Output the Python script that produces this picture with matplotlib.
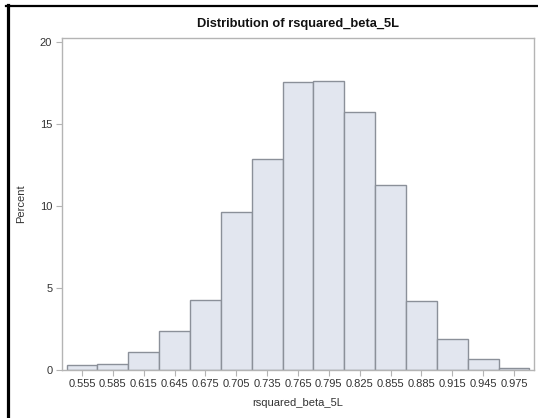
import numpy as np
import matplotlib
matplotlib.use("Agg")
import matplotlib.pyplot as plt
from matplotlib.lines import Line2D

# ================= DATOS =================
centros = [0.555, 0.585, 0.615, 0.645, 0.675, 0.705, 0.735, 0.765,
           0.795, 0.825, 0.855, 0.885, 0.915, 0.945, 0.975]
porcentajes = [0.28, 0.35, 1.05, 2.35, 4.25, 9.6, 12.9, 17.55,
               17.65, 15.75, 11.3, 4.2, 1.87, 0.65, 0.08]
etiquetas_x = ["0.555", "0.585", "0.615", "0.645", "0.675", "0.705", "0.735", "0.765",
               "0.795", "0.825", "0.855", "0.885", "0.915", "0.945", "0.975"]
ticks_y = [0, 5, 10, 15, 20]
ANCHO_BIN = 0.03
# =========================================

plt.rcParams['font.family'] = ['Liberation Sans', 'DejaVu Sans']

COLOR_RELLENO = '#e2e6ef'
COLOR_BORDE = '#8b9099'
COLOR_EJE = '#b4b4b4'
COLOR_TEXTO = '#333333'

fig = plt.figure(figsize=(5.38, 4.18), dpi=100)
ax = fig.add_axes([62 / 538, 48.5 / 418, 472 / 538, 331.5 / 418])

ax.bar(centros, porcentajes, width=ANCHO_BIN, color=COLOR_RELLENO,
       edgecolor=COLOR_BORDE, linewidth=1.0, zorder=2)

ax.set_xlim(0.5356, 0.9944)
ax.set_ylim(0, 20.27)
ax.set_xticks(centros)
ax.set_xticklabels(etiquetas_x)
ax.set_yticks(ticks_y)

for spine in ax.spines.values():
    spine.set_color(COLOR_EJE)
    spine.set_linewidth(1.0)

ax.tick_params(axis='both', direction='out', length=4, width=0.8,
               color=COLOR_EJE, labelsize=8, labelcolor=COLOR_TEXTO, pad=3)

ax.set_title("Distribution of rsquared_beta_5L", fontsize=9.3,
             fontweight='bold', color='#111111', pad=8)
ax.set_xlabel("rsquared_beta_5L", fontsize=8, color=COLOR_TEXTO, labelpad=6)
ax.set_ylabel("Percent", fontsize=8, color=COLOR_TEXTO, labelpad=10)

# marco negro superior e izquierdo
fig.add_artist(Line2D([6 / 538, 1.0], [1 - 5.5 / 418, 1 - 5.5 / 418],
                      color='black', linewidth=1.6, transform=fig.transFigure))
fig.add_artist(Line2D([7.5 / 538, 7.5 / 538], [0.0, 1 - 5 / 418],
                      color='black', linewidth=2.3, transform=fig.transFigure))

fig.savefig("out.png", dpi=100)
plt.close(fig)
